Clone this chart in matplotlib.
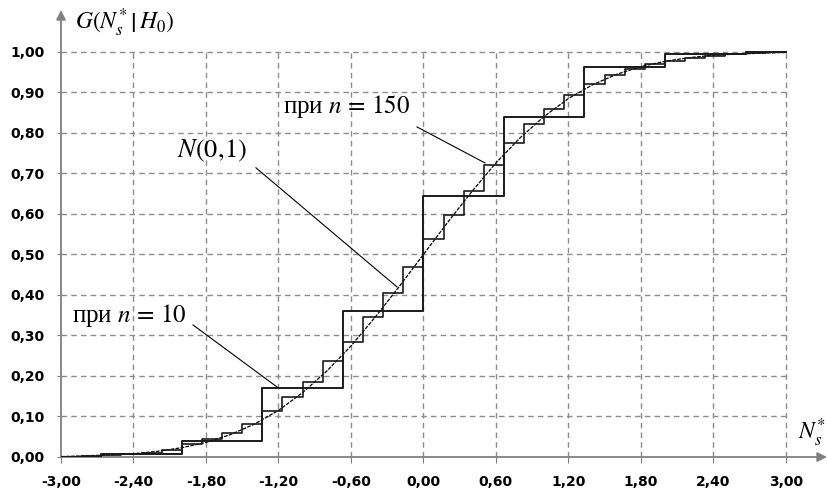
import matplotlib
matplotlib.use("Agg")
import matplotlib.pyplot as plt

plt.rcParams['mathtext.fontset'] = 'stix'
plt.rcParams['font.family'] = ['Liberation Serif', 'DejaVu Serif']

# normal CDF N(0,1)
norm_x = [-3.0, -2.8, -2.6, -2.4, -2.2, -2.0, -1.8, -1.6, -1.4, -1.2, -1.0,
          -0.8, -0.6, -0.4, -0.2, 0.0, 0.2, 0.4, 0.6, 0.8, 1.0,
          1.2, 1.4, 1.6, 1.8, 2.0, 2.2, 2.4, 2.6, 2.8, 3.0]
norm_y = [0.001, 0.003, 0.005, 0.008, 0.014, 0.023, 0.036, 0.055, 0.081, 0.115, 0.159,
          0.212, 0.274, 0.345, 0.421, 0.500, 0.579, 0.655, 0.726, 0.788, 0.841,
          0.885, 0.919, 0.945, 0.964, 0.977, 0.986, 0.992, 0.995, 0.997, 0.999]

# step function for n = 10
n10_x = [-3.0, -2.667, -2.0, -1.333, -0.667, 0.0, 0.667, 1.333, 2.0, 2.667, 3.0]
n10_y = [0.000, 0.007, 0.040, 0.170, 0.360, 0.645, 0.840, 0.963, 0.995, 1.000, 1.000]

# step function for n = 150
n150_x = [-3.0, -2.833, -2.667, -2.5, -2.333, -2.167, -2.0, -1.833, -1.667, -1.5,
          -1.333, -1.167, -1.0, -0.833, -0.667, -0.5, -0.333, -0.167, 0.0, 0.167,
          0.333, 0.5, 0.667, 0.833, 1.0, 1.167, 1.333, 1.5, 1.667, 1.833,
          2.0, 2.167, 2.333, 2.5, 2.667, 2.833, 3.0]
n150_y = [0.001, 0.002, 0.004, 0.007, 0.011, 0.017, 0.031, 0.044, 0.059, 0.082,
          0.113, 0.147, 0.186, 0.236, 0.285, 0.345, 0.405, 0.468, 0.538, 0.598,
          0.657, 0.720, 0.775, 0.822, 0.860, 0.895, 0.921, 0.942, 0.957, 0.970,
          0.979, 0.986, 0.991, 0.995, 0.998, 0.999, 0.999]

x_ticks = [-3.0, -2.4, -1.8, -1.2, -0.6, 0.0, 0.6, 1.2, 1.8, 2.4, 3.0]
y_ticks = [0.0, 0.1, 0.2, 0.3, 0.4, 0.5, 0.6, 0.7, 0.8, 0.9, 1.0]

W, H = 827, 493
fig = plt.figure(figsize=(W / 100, H / 100), dpi=100)
ax = fig.add_axes([61 / W, 36 / H, 766 / W, 447 / H])
ax.set_xlim(-3.0, 3.341)
ax.set_ylim(0.0, 1.1037)
for s in ax.spines.values():
    s.set_visible(False)

grid_c = '#8c8c8c'
ax.hlines(y_ticks[1:], -3.0, 3.0, colors=grid_c, linestyles=(0, (4, 3)), lw=1.0, zorder=1)
ax.vlines(x_ticks[1:], 0.0, 1.0, colors=grid_c, linestyles=(0, (4, 3)), lw=1.0, zorder=1)

# axes with arrows
ax.annotate('', xy=(3.341, 0), xytext=(-3.0, 0),
            arrowprops=dict(arrowstyle='-|>', color='#808080', lw=1.3, mutation_scale=14,
                            shrinkA=0, shrinkB=0), annotation_clip=False)
ax.annotate('', xy=(-3.0, 1.1037), xytext=(-3.0, 0),
            arrowprops=dict(arrowstyle='-|>', color='#808080', lw=1.3, mutation_scale=14,
                            shrinkA=0, shrinkB=0), annotation_clip=False)

ax.plot(norm_x, norm_y, color='black', lw=0.9, ls=(0, (3, 1)), zorder=3)
ax.step(n10_x, n10_y, where='post', color='#1a1a1a', lw=1.4, zorder=4)
ax.step(n150_x, n150_y, where='post', color='#1a1a1a', lw=1.2, zorder=4)

ax.set_xticks(x_ticks)
ax.set_yticks(y_ticks)
ax.set_xticklabels([f'{v:.2f}'.replace('.', ',') for v in x_ticks],
                   family='DejaVu Sans', fontweight='bold', fontsize=10)
ax.set_yticklabels([f'{v:.2f}'.replace('.', ',') for v in y_ticks],
                   family='DejaVu Sans', fontweight='bold', fontsize=10)
ax.tick_params(axis='x', length=4, color='#808080', pad=9)
ax.tick_params(axis='y', length=3, color='#808080', pad=9)

# axis titles
ax.text(-2.88, 1.072, r'$G(N_s^{*}\,\left|\,H_0\right.)$', fontsize=17, ha='left', va='center')
ax.text(3.33, 0.06, r'$N_s^{*}$', fontsize=17, ha='right', va='center')

# callouts
lead = dict(color='black', lw=0.8, zorder=5)
ax.plot([-1.907, -1.212], [0.326, 0.173], **lead)
ax.text(-2.909, 0.333, r'при $n\,=\,10$', fontsize=18, ha='left', va='baseline')

ax.plot([-1.386, -0.219], [0.714, 0.420], **lead)
ax.text(-2.04, 0.741, r'$N(0,\!1)$', fontsize=19, ha='left', va='baseline')

ax.plot([-0.053, 0.51], [0.815, 0.726], **lead)
ax.text(-1.162, 0.849, r'при $n\,=\,150$', fontsize=18, ha='left', va='baseline')

fig.savefig('out.png', dpi=100)
